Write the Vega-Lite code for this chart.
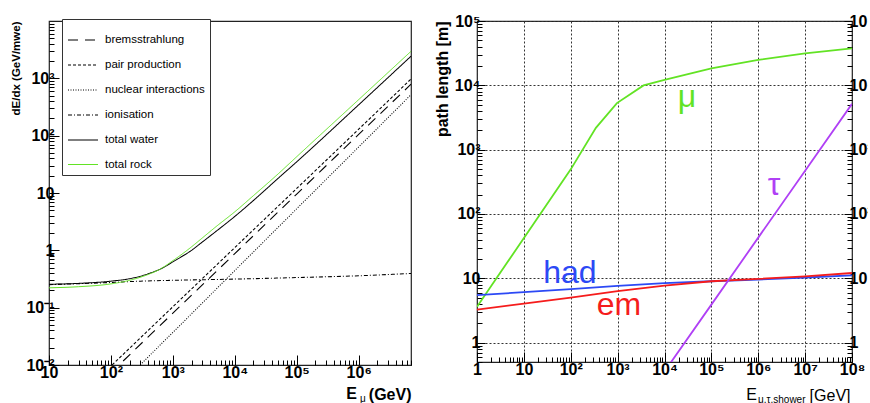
{
  "$schema": "https://vega.github.io/schema/vega-lite/v6.json",
  "background": "white",
  "padding": {"left": 10, "top": 12, "right": -8, "bottom": 0},
  "spacing": 20,
  "resolve": {"scale": {"color": "independent", "strokeDash": "independent", "strokeWidth": "independent"}},
  "config": {
    "view": {"stroke": "#222", "strokeWidth": 1.2},
    "font": "Liberation Sans",
    "axis": {
      "labelFont": "Liberation Sans",
      "titleFont": "Liberation Sans",
      "labelColor": "black",
      "titleColor": "black",
      "tickColor": "black",
      "tickWidth": 1,
      "domain": false,
      "grid": false,
      "labelOverlap": false,
      "labelFlush": false,
      "labelFontSize": 16,
      "labelFontWeight": "bold"
    },
    "line": {"strokeCap": "butt"}
  },
  "datasets": {
    "loss": [
      {"E": 100, "dEdx": 0.0073, "component": "bremsstrahlung"},
      {"E": 135, "dEdx": 0.01, "component": "bremsstrahlung"},
      {"E": 1000, "dEdx": 0.080, "component": "bremsstrahlung"},
      {"E": 10000, "dEdx": 0.876, "component": "bremsstrahlung"},
      {"E": 100000, "dEdx": 9.58, "component": "bremsstrahlung"},
      {"E": 1000000, "dEdx": 104.9, "component": "bremsstrahlung"},
      {"E": 7000000, "dEdx": 790, "component": "bremsstrahlung"},
      {"E": 80, "dEdx": 0.0076, "component": "pair production"},
      {"E": 1000, "dEdx": 0.1036, "component": "pair production"},
      {"E": 10000, "dEdx": 1.117, "component": "pair production"},
      {"E": 100000, "dEdx": 12.0, "component": "pair production"},
      {"E": 1000000, "dEdx": 129.6, "component": "pair production"},
      {"E": 7000000, "dEdx": 973, "component": "pair production"},
      {"E": 200, "dEdx": 0.0066, "component": "nuclear interactions"},
      {"E": 1000, "dEdx": 0.037, "component": "nuclear interactions"},
      {"E": 10000, "dEdx": 0.444, "component": "nuclear interactions"},
      {"E": 100000, "dEdx": 5.31, "component": "nuclear interactions"},
      {"E": 1000000, "dEdx": 63.4, "component": "nuclear interactions"},
      {"E": 7000000, "dEdx": 518, "component": "nuclear interactions"},
      {"E": 10, "dEdx": 0.252, "component": "ionisation"},
      {"E": 100, "dEdx": 0.275, "component": "ionisation"},
      {"E": 300, "dEdx": 0.29, "component": "ionisation"},
      {"E": 1000, "dEdx": 0.300, "component": "ionisation"},
      {"E": 10000, "dEdx": 0.315, "component": "ionisation"},
      {"E": 100000, "dEdx": 0.335, "component": "ionisation"},
      {"E": 1000000, "dEdx": 0.36, "component": "ionisation"},
      {"E": 7000000, "dEdx": 0.395, "component": "ionisation"},
      {"E": 10, "dEdx": 0.256, "component": "total water"},
      {"E": 30, "dEdx": 0.265, "component": "total water"},
      {"E": 100, "dEdx": 0.29, "component": "total water"},
      {"E": 200, "dEdx": 0.32, "component": "total water"},
      {"E": 400, "dEdx": 0.39, "component": "total water"},
      {"E": 700, "dEdx": 0.50, "component": "total water"},
      {"E": 1000, "dEdx": 0.63, "component": "total water"},
      {"E": 2000, "dEdx": 1.0, "component": "total water"},
      {"E": 3000, "dEdx": 1.4, "component": "total water"},
      {"E": 5000, "dEdx": 2.15, "component": "total water"},
      {"E": 10000, "dEdx": 3.9, "component": "total water"},
      {"E": 20000, "dEdx": 7.4, "component": "total water"},
      {"E": 50000, "dEdx": 18, "component": "total water"},
      {"E": 100000, "dEdx": 35, "component": "total water"},
      {"E": 1000000, "dEdx": 345, "component": "total water"},
      {"E": 7000000, "dEdx": 2430, "component": "total water"},
      {"E": 10, "dEdx": 0.222, "component": "total rock"},
      {"E": 30, "dEdx": 0.232, "component": "total rock"},
      {"E": 100, "dEdx": 0.26, "component": "total rock"},
      {"E": 200, "dEdx": 0.30, "component": "total rock"},
      {"E": 400, "dEdx": 0.38, "component": "total rock"},
      {"E": 600, "dEdx": 0.46, "component": "total rock"},
      {"E": 1000, "dEdx": 0.66, "component": "total rock"},
      {"E": 2000, "dEdx": 1.15, "component": "total rock"},
      {"E": 3000, "dEdx": 1.65, "component": "total rock"},
      {"E": 5000, "dEdx": 2.6, "component": "total rock"},
      {"E": 10000, "dEdx": 4.7, "component": "total rock"},
      {"E": 20000, "dEdx": 9.0, "component": "total rock"},
      {"E": 50000, "dEdx": 21.5, "component": "total rock"},
      {"E": 100000, "dEdx": 43, "component": "total rock"},
      {"E": 1000000, "dEdx": 425, "component": "total rock"},
      {"E": 7000000, "dEdx": 2960, "component": "total rock"}
    ],
    "path": [
      {"E": 1, "L": 3.6, "particle": "mu"},
      {"E": 100, "L": 494, "particle": "mu"},
      {"E": 344, "L": 2180, "particle": "mu"},
      {"E": 966, "L": 5300, "particle": "mu"},
      {"E": 3570, "L": 9960, "particle": "mu"},
      {"E": 10000, "L": 12200, "particle": "mu"},
      {"E": 100000, "L": 18400, "particle": "mu"},
      {"E": 1000000, "L": 24800, "particle": "mu"},
      {"E": 10000000, "L": 31500, "particle": "mu"},
      {"E": 100000000, "L": 37600, "particle": "mu"},
      {"E": 1, "L": 5.46, "particle": "had"},
      {"E": 10, "L": 6.1, "particle": "had"},
      {"E": 100, "L": 6.8, "particle": "had"},
      {"E": 1000, "L": 7.6, "particle": "had"},
      {"E": 10000, "L": 8.4, "particle": "had"},
      {"E": 100000, "L": 9.0, "particle": "had"},
      {"E": 1000000, "L": 9.55, "particle": "had"},
      {"E": 10000000, "L": 10.3, "particle": "had"},
      {"E": 100000000, "L": 11.1, "particle": "had"},
      {"E": 1, "L": 3.27, "particle": "em"},
      {"E": 10, "L": 4.05, "particle": "em"},
      {"E": 100, "L": 5.0, "particle": "em"},
      {"E": 1000, "L": 6.3, "particle": "em"},
      {"E": 10000, "L": 7.7, "particle": "em"},
      {"E": 100000, "L": 9.0, "particle": "em"},
      {"E": 1000000, "L": 9.8, "particle": "em"},
      {"E": 10000000, "L": 10.7, "particle": "em"},
      {"E": 100000000, "L": 12.1, "particle": "em"},
      {"E": 10000, "L": 0.356, "particle": "tau"},
      {"E": 100000, "L": 3.9, "particle": "tau"},
      {"E": 1000000, "L": 42.9, "particle": "tau"},
      {"E": 10000000, "L": 470, "particle": "tau"},
      {"E": 100000000, "L": 5150, "particle": "tau"}
    ],
    "pathLabels": [
      {"E": 96, "L": 8.46, "particle": "had", "text": "had"},
      {"E": 1070, "L": 2.7, "particle": "em", "text": "em"},
      {"E": 30000, "L": 4600, "particle": "mu", "text": "μ"},
      {"E": 2170000, "L": 194, "particle": "tau", "text": "τ"}
    ]
  },
  "hconcat": [
    {
      "width": 362,
      "height": 344,
      "layer": [
        {
          "data": {"name": "loss"},
          "mark": {"type": "line", "clip": true, "interpolate": "monotone"},
          "encoding": {
            "x": {
              "field": "E", "type": "quantitative",
              "scale": {"type": "log", "domain": [10, 7000000], "nice": false},
              "axis": {
                "values": [10,20,30,40,50,60,70,80,90,100,200,300,400,500,600,700,800,900,1000,2000,3000,4000,5000,6000,7000,8000,9000,10000,20000,30000,40000,50000,60000,70000,80000,90000,100000,200000,300000,400000,500000,600000,700000,800000,900000,1000000,2000000,3000000,4000000,5000000,6000000,7000000],
                "labelExpr": "abs(log(datum.value)/LN10 - round(log(datum.value)/LN10)) > 0.001 ? '' : round(log(datum.value)/LN10) == 0 ? '1' : round(log(datum.value)/LN10) == 1 ? '10' : '10' + ['⁻²','⁻¹','','','²','³','⁴','⁵','⁶','⁷','⁸'][round(log(datum.value)/LN10) + 2]",
                "tickSize": {"condition": {"test": "abs(log(datum.value)/LN10 - round(log(datum.value)/LN10)) < 0.001", "value": -10}, "value": -5},
                "labelPadding": 9,
                "title": "(GeV)",
                "titleFontSize": 16,
                "titleFontWeight": "bold",
                "titleAnchor": "end",
                "titleAlign": "right",
                "titleBaseline": "alphabetic",
                "titleX": 362,
                "titleY": 34
              }
            },
            "y": {
              "field": "dEdx", "type": "quantitative",
              "scale": {"type": "log", "domain": [0.01, 10000], "nice": false},
              "axis": {
                "values": [0.01,0.02,0.03,0.04,0.05,0.06,0.07,0.08,0.09,0.1,0.2,0.3,0.4,0.5,0.6,0.7,0.8,0.9,1,2,3,4,5,6,7,8,9,10,20,30,40,50,60,70,80,90,100,200,300,400,500,600,700,800,900,1000,2000,3000,4000,5000,6000,7000,8000,9000],
                "labelExpr": "abs(log(datum.value)/LN10 - round(log(datum.value)/LN10)) > 0.001 ? '' : round(log(datum.value)/LN10) == 0 ? '1' : round(log(datum.value)/LN10) == 1 ? '10' : '10' + ['⁻²','⁻¹','','','²','³','⁴','⁵','⁶','⁷','⁸'][round(log(datum.value)/LN10) + 2]",
                "tickSize": {"condition": {"test": "abs(log(datum.value)/LN10 - round(log(datum.value)/LN10)) < 0.001", "value": -10}, "value": -5},
                "labelPadding": 5,
                "title": "dE/dx (GeV/mwe)",
                "titleFontSize": 11.5,
                "titleFontWeight": "bold",
                "titleAnchor": "end",
                "titlePadding": 4
              }
            },
            "color": {
              "field": "component", "type": "nominal",
              "scale": {
                "domain": ["bremsstrahlung", "pair production", "nuclear interactions", "ionisation", "total water", "total rock"],
                "range": ["black", "black", "black", "black", "black", "#62e324"]
              },
              "legend": {
                "orient": "none",
                "legendX": 13,
                "legendY": -2,
                "title": null,
                "symbolType": "stroke",
                "symbolSize": 900,
                "labelFont": "Liberation Sans",
                "labelFontSize": 11.5,
                "labelColor": "black",
                "labelOffset": 6,
                "labelLimit": 300,
                "padding": 5,
                "rowPadding": 3,
                "strokeColor": "#333",
                "fillColor": "white"
              }
            },
            "strokeDash": {
              "field": "component", "type": "nominal",
              "scale": {
                "domain": ["bremsstrahlung", "pair production", "nuclear interactions", "ionisation", "total water", "total rock"],
                "range": [[10, 7], [3, 2], [1, 1.5], [4, 2, 1, 2], [1, 0], [1, 0]]
              },
              "legend": {"title": null}
            },
            "strokeWidth": {
              "field": "component", "type": "nominal",
              "scale": {
                "domain": ["bremsstrahlung", "pair production", "nuclear interactions", "ionisation", "total water", "total rock"],
                "range": [1.1, 1, 0.8, 1, 2, 2]
              },
              "legend": {"title": null}
            }
          }
        },
        {
          "data": {"values": [{"E": 767000, "dEdx": 0.00255, "t": "E"}]},
          "mark": {"type": "text", "font": "Liberation Sans", "fontWeight": "bold", "fontSize": 16, "align": "center", "baseline": "alphabetic", "color": "black"},
          "encoding": {
            "x": {"field": "E", "type": "quantitative"},
            "y": {"field": "dEdx", "type": "quantitative"},
            "text": {"field": "t"}
          }
        },
        {
          "data": {"values": [{"E": 1170000, "dEdx": 0.00225, "t": "μ"}]},
          "mark": {"type": "text", "font": "Liberation Sans", "fontSize": 10, "align": "center", "baseline": "alphabetic", "color": "black"},
          "encoding": {
            "x": {"field": "E", "type": "quantitative"},
            "y": {"field": "dEdx", "type": "quantitative"},
            "text": {"field": "t"}
          }
        }
      ]
    },
    {
      "width": 375,
      "height": 341,
      "resolve": {"axis": {"y": "independent"}},
      "layer": [
        {
          "data": {"name": "path"},
          "mark": {"type": "line", "clip": true, "strokeWidth": 1.8},
          "encoding": {
            "x": {
              "field": "E", "type": "quantitative",
              "scale": {"type": "log", "domain": [1, 100000000], "nice": false},
              "axis": {
                "values": [1,2,3,4,5,6,7,8,9,10,20,30,40,50,60,70,80,90,100,200,300,400,500,600,700,800,900,1000,2000,3000,4000,5000,6000,7000,8000,9000,10000,20000,30000,40000,50000,60000,70000,80000,90000,100000,200000,300000,400000,500000,600000,700000,800000,900000,1000000,2000000,3000000,4000000,5000000,6000000,7000000,8000000,9000000,10000000,20000000,30000000,40000000,50000000,60000000,70000000,80000000,90000000,100000000],
                "labelExpr": "abs(log(datum.value)/LN10 - round(log(datum.value)/LN10)) > 0.001 ? '' : round(log(datum.value)/LN10) == 0 ? '1' : round(log(datum.value)/LN10) == 1 ? '10' : '10' + ['⁻²','⁻¹','','','²','³','⁴','⁵','⁶','⁷','⁸'][round(log(datum.value)/LN10) + 2]",
                "tickSize": {"condition": {"test": "abs(log(datum.value)/LN10 - round(log(datum.value)/LN10)) < 0.001", "value": -10}, "value": -5},
                "grid": true,
                "gridColor": "#333",
                "gridDash": [2, 2],
                "gridWidth": 1,
                "gridOpacity": {"condition": {"test": "abs(log(datum.value)/LN10 - round(log(datum.value)/LN10)) < 0.001", "value": 1}, "value": 0},
                "labelPadding": 9,
                "title": "[GeV]",
                "titleFontSize": 16,
                "titleFontWeight": "normal",
                "titleAnchor": "end",
                "titleAlign": "right",
                "titleBaseline": "alphabetic",
                "titleX": 373,
                "titleY": 38
              }
            },
            "y": {
              "field": "L", "type": "quantitative",
              "scale": {"type": "log", "domain": [0.5, 100000], "nice": false},
              "axis": {
                "orient": "left",
                "values": [0.5,0.6,0.7,0.8,0.9,1,2,3,4,5,6,7,8,9,10,20,30,40,50,60,70,80,90,100,200,300,400,500,600,700,800,900,1000,2000,3000,4000,5000,6000,7000,8000,9000,10000,20000,30000,40000,50000,60000,70000,80000,90000,100000],
                "labelExpr": "abs(log(datum.value)/LN10 - round(log(datum.value)/LN10)) > 0.001 ? '' : round(log(datum.value)/LN10) == 0 ? '1' : round(log(datum.value)/LN10) == 1 ? '10' : '10' + ['⁻²','⁻¹','','','²','³','⁴','⁵','⁶','⁷','⁸'][round(log(datum.value)/LN10) + 2]",
                "tickSize": {"condition": {"test": "abs(log(datum.value)/LN10 - round(log(datum.value)/LN10)) < 0.001", "value": -8}, "value": -5},
                "grid": true,
                "gridColor": "#333",
                "gridDash": [2, 2],
                "gridWidth": 1,
                "gridOpacity": {"condition": {"test": "abs(log(datum.value)/LN10 - round(log(datum.value)/LN10)) < 0.001", "value": 1}, "value": 0},
                "labelPadding": 5,
                "title": "path length [m]",
                "titleFontSize": 16,
                "titleFontWeight": "bold",
                "titleAnchor": "end",
                "titlePadding": 4
              }
            },
            "color": {
              "field": "particle", "type": "nominal",
              "scale": {"domain": ["mu", "had", "em", "tau"], "range": ["#62e324", "#2c49f5", "#f51c1c", "#b040f5"]},
              "legend": null
            }
          }
        },
        {
          "data": {"name": "pathLabels"},
          "mark": {"type": "text", "font": "Liberation Sans", "fontSize": 32, "align": "center", "baseline": "alphabetic"},
          "encoding": {
            "x": {"field": "E", "type": "quantitative"},
            "y": {
              "field": "L", "type": "quantitative",
              "scale": {"type": "log", "domain": [0.5, 100000], "nice": false},
              "axis": {
                "orient": "right",
                "values": [0.5,0.6,0.7,0.8,0.9,1,2,3,4,5,6,7,8,9,10,20,30,40,50,60,70,80,90,100,200,300,400,500,600,700,800,900,1000,2000,3000,4000,5000,6000,7000,8000,9000,10000,20000,30000,40000,50000,60000,70000,80000,90000,100000],
                "labelExpr": "abs(log(datum.value)/LN10 - round(log(datum.value)/LN10)) > 0.001 ? '' : round(log(datum.value)/LN10) == 0 ? '1' : round(log(datum.value)/LN10) == 1 ? '10' : '10' + ['⁻²','⁻¹','','','²','³','⁴','⁵','⁶','⁷','⁸'][round(log(datum.value)/LN10) + 2]",
                "tickSize": {"condition": {"test": "abs(log(datum.value)/LN10 - round(log(datum.value)/LN10)) < 0.001", "value": -8}, "value": -5},
                "labelPadding": 5,
                "title": null
              }
            },
            "color": {"field": "particle", "type": "nominal", "legend": null},
            "text": {"field": "text"}
          }
        },
        {
          "data": {"values": [{"E": 718000, "L": 0.1285, "t": "E"}]},
          "mark": {"type": "text", "font": "Liberation Sans", "fontSize": 16, "align": "center", "baseline": "alphabetic", "color": "black"},
          "encoding": {
            "x": {"field": "E", "type": "quantitative"},
            "y": {"field": "L", "type": "quantitative", "axis": null},
            "text": {"field": "t"}
          }
        },
        {
          "data": {"values": [{"E": 988000, "L": 0.115, "t": "μ,τ,shower"}]},
          "mark": {"type": "text", "font": "Liberation Sans", "fontSize": 10, "align": "left", "baseline": "alphabetic", "color": "black"},
          "encoding": {
            "x": {"field": "E", "type": "quantitative"},
            "y": {"field": "L", "type": "quantitative", "axis": null},
            "text": {"field": "t"}
          }
        }
      ]
    }
  ]
}
